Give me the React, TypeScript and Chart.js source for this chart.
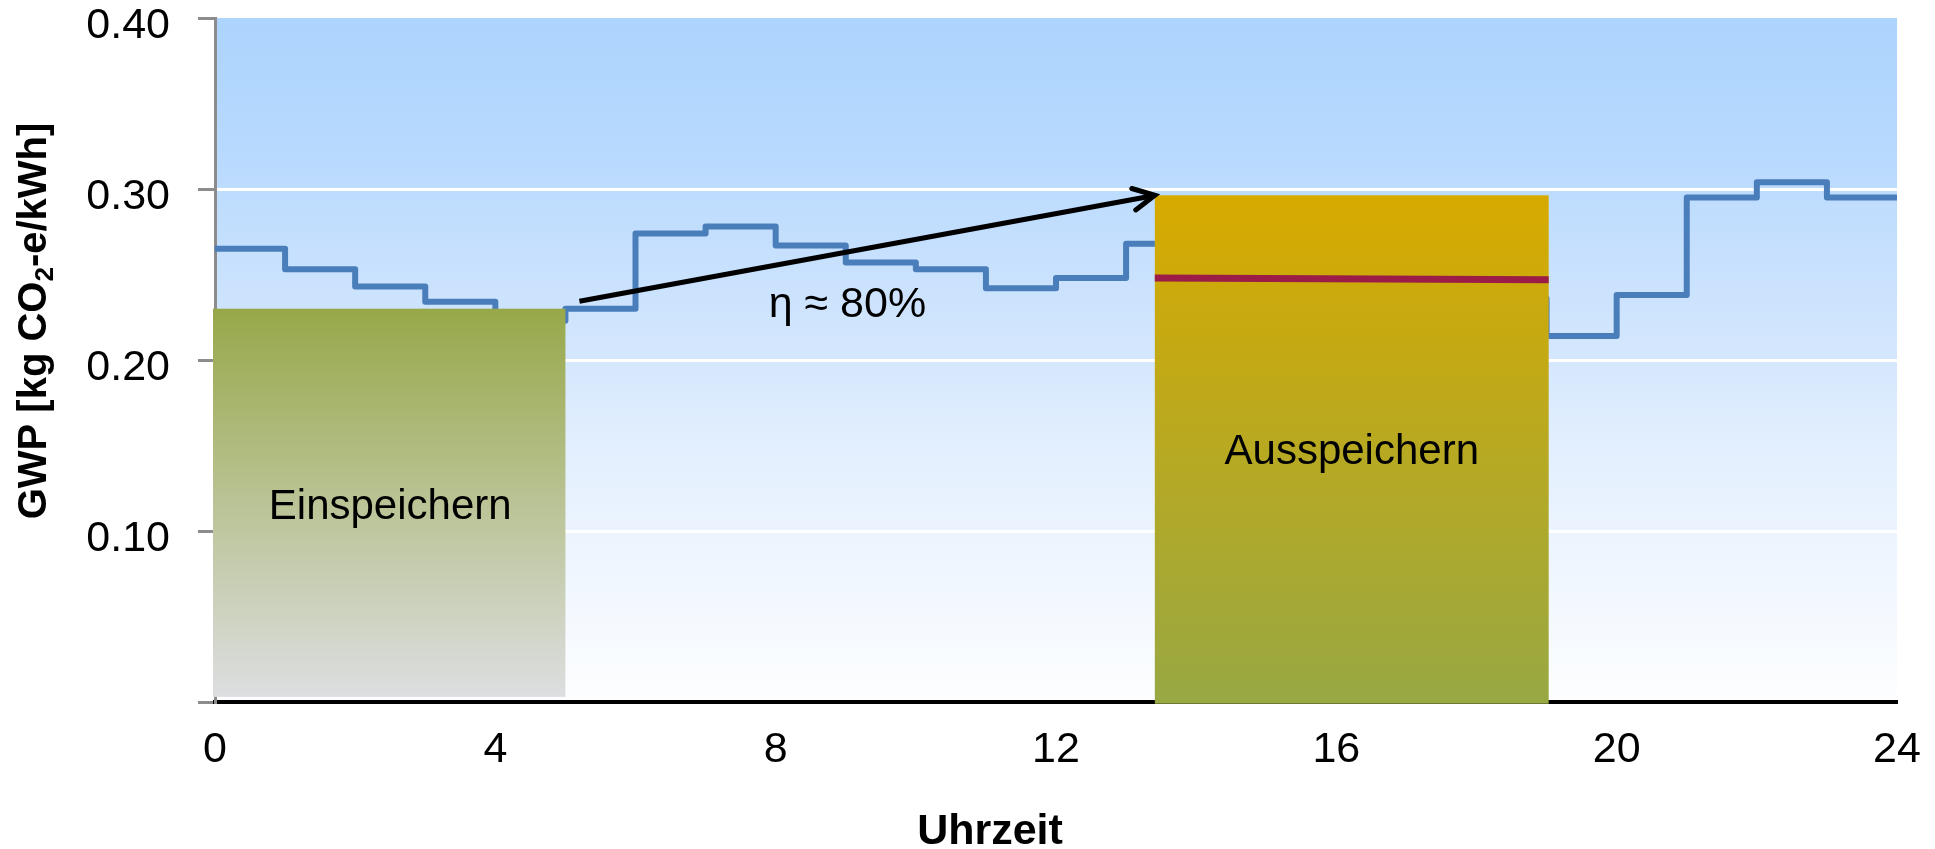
import React, { useEffect, useRef } from 'react';
import { Chart, registerables } from 'chart.js';

Chart.register(...registerables);

// ---- data ----
const hours = [0, 1, 2, 3, 4, 5, 6, 7, 8, 9, 10, 11, 12, 13, 14, 15, 16, 17, 18, 19, 20, 21, 22, 23, 24];
const gwpValues = [
  0.265, 0.253, 0.243, 0.234, 0.223, 0.230, 0.274, 0.278, 0.267, 0.257, 0.253, 0.242,
  0.248, 0.268, 0.270, 0.262, 0.255, 0.248, 0.236, 0.214, 0.238, 0.295, 0.304, 0.295, 0.295,
];
const xTickValues = [0, 4, 8, 12, 16, 20, 24];
const yTickValues = [0, 0.1, 0.2, 0.3, 0.4];
const yTickLabels = ['', '0.10', '0.20', '0.30', '0.40'];

const chargeHours = [0, 5];
const chargeLevel = [0.003, 0.23];
const dischargeHours = [13.41, 19.03];
const dischargeLevel = [-0.001, 0.2963];
const dischargeMeanLevel = [0.248, 0.247];
const arrowStart = [5.2, 0.2344];
const arrowEnd = [13.41, 0.2963];

const chargeLabel = 'Einspeichern';
const dischargeLabel = 'Ausspeichern';
const efficiencyLabel = 'η ≈ 80%';
const xTitle = 'Uhrzeit';
const yTitleParts = ['GWP [kg CO', '2', '-e/kWh]'];

const FONT = '"Liberation Sans", Arial, sans-serif';

const overlayPlugin = {
  id: 'overlay',
  beforeDraw(chart: any) {
    const { ctx, chartArea: a } = chart;
    const g = ctx.createLinearGradient(0, a.top, 0, a.bottom);
    g.addColorStop(0, '#acd4fd');
    g.addColorStop(0.19, '#b7d9fe');
    g.addColorStop(0.5, '#d5e7fd');
    g.addColorStop(0.63, '#e3effe');
    g.addColorStop(1, '#fdfeff');
    ctx.save();
    ctx.fillStyle = g;
    ctx.fillRect(a.left, a.top, a.right - a.left, a.bottom - a.top);
    ctx.restore();
  },
  afterDatasetsDraw(chart: any) {
    const { ctx } = chart;
    const xs = chart.scales.x;
    const ys = chart.scales.y;
    const px = (v: number) => xs.getPixelForValue(v);
    const py = (v: number) => ys.getPixelForValue(v);
    ctx.save();

    // charge box
    {
      const x0 = px(chargeHours[0]) - 2, x1 = px(chargeHours[1]);
      const yTop = py(chargeLevel[1]), yBot = py(chargeLevel[0]);
      const g = ctx.createLinearGradient(0, yTop, 0, yBot);
      g.addColorStop(0, '#97a849');
      g.addColorStop(1, '#dddee1');
      ctx.fillStyle = g;
      ctx.fillRect(x0, yTop, x1 - x0, yBot - yTop);
    }
    // discharge box
    {
      const x0 = px(dischargeHours[0]), x1 = px(dischargeHours[1]);
      const yTop = py(dischargeLevel[1]), yBot = py(dischargeLevel[0]);
      const g = ctx.createLinearGradient(0, yTop, 0, yBot);
      g.addColorStop(0, '#d7aa00');
      g.addColorStop(1, '#98a843');
      ctx.fillStyle = g;
      ctx.fillRect(x0, yTop, x1 - x0, yBot - yTop);
      // mean line
      ctx.strokeStyle = '#9b1d47';
      ctx.lineWidth = 7;
      ctx.beginPath();
      ctx.moveTo(x0, py(dischargeMeanLevel[0]));
      ctx.lineTo(x1, py(dischargeMeanLevel[1]));
      ctx.stroke();
    }
    // arrow
    {
      const sx = px(arrowStart[0]), sy = py(arrowStart[1]);
      const ex = px(arrowEnd[0]), ey = py(arrowEnd[1]);
      ctx.strokeStyle = '#000';
      ctx.lineWidth = 5;
      ctx.lineCap = 'butt';
      ctx.beginPath();
      ctx.moveTo(sx, sy);
      ctx.lineTo(ex - 3, ey + 0.6);
      ctx.stroke();
      const ang = Math.atan2(sy - ey, sx - ex);
      const len = 24, spread = (27 * Math.PI) / 180;
      ctx.lineCap = 'round';
      ctx.lineJoin = 'miter';
      ctx.beginPath();
      ctx.moveTo(ex + len * Math.cos(ang - spread), ey + len * Math.sin(ang - spread));
      ctx.lineTo(ex, ey);
      ctx.lineTo(ex + len * Math.cos(ang + spread), ey + len * Math.sin(ang + spread));
      ctx.stroke();
    }
    // texts
    ctx.fillStyle = '#000';
    ctx.font = `42px ${FONT}`;
    ctx.textBaseline = 'alphabetic';
    ctx.textAlign = 'center';
    ctx.fillText(chargeLabel, (px(chargeHours[0]) + px(chargeHours[1])) / 2, py(0.107));
    ctx.fillText(dischargeLabel, (px(dischargeHours[0]) + px(dischargeHours[1])) / 2, py(0.1394));
    ctx.textAlign = 'left';
    ctx.font = `43px ${FONT}`;
    ctx.fillText(efficiencyLabel, px(7.9), py(0.225));

    // x title
    ctx.font = `bold 43px ${FONT}`;
    ctx.textAlign = 'center';
    ctx.fillText(xTitle, 990, 844);

    // y title with subscript
    ctx.translate(46, 321);
    ctx.rotate(-Math.PI / 2);
    const big = `bold 40px ${FONT}`;
    const small = `bold 26px ${FONT}`;
    ctx.font = big;
    const w0 = ctx.measureText(yTitleParts[0]).width;
    const w2 = ctx.measureText(yTitleParts[2]).width;
    ctx.font = small;
    const w1 = ctx.measureText(yTitleParts[1]).width;
    let x = -(w0 + w1 + w2) / 2;
    ctx.textAlign = 'left';
    ctx.font = big;
    ctx.fillText(yTitleParts[0], x, 0);
    x += w0;
    ctx.font = small;
    ctx.fillText(yTitleParts[1], x, 7);
    x += w1;
    ctx.font = big;
    ctx.fillText(yTitleParts[2], x, 0);
    ctx.restore();
  },
};

export default function App() {
  const ref = useRef<HTMLCanvasElement | null>(null);
  useEffect(() => {
    if (!ref.current) return;
    const chart = new Chart(ref.current, {
      type: 'line',
      data: {
        datasets: [
          {
            data: hours.map((h, i) => ({ x: h, y: gwpValues[i] })),
            borderColor: '#4a7ebb',
            borderWidth: 6,
            stepped: 'before',
            pointRadius: 0,
            fill: false,
            borderJoinStyle: 'round',
            borderCapStyle: 'round',
          },
        ],
      },
      options: {
        animation: false,
        responsive: false,
        maintainAspectRatio: false,
        layout: { padding: { top: 18, right: 38, left: 0, bottom: 0 } },
        plugins: { legend: { display: false }, tooltip: { enabled: false }, title: { display: false } },
        scales: {
          x: {
            type: 'linear',
            min: 0,
            max: 24,
            afterBuildTicks: (s: any) => {
              s.ticks = xTickValues.map((v) => ({ value: v }));
            },
            afterFit: (s: any) => {
              s.height = 147;
              s.paddingLeft = 0;
              s.paddingRight = 0;
            },
            grid: { display: false, drawTicks: false },
            border: { display: true, color: '#000', width: 4 },
            ticks: {
              padding: 22,
              color: '#000',
              font: { family: FONT, size: 43 },
              maxRotation: 0,
              autoSkip: false,
            },
          },
          y: {
            type: 'linear',
            min: 0,
            max: 0.4,
            afterBuildTicks: (s: any) => {
              s.ticks = yTickValues.map((v) => ({ value: v }));
            },
            afterFit: (s: any) => {
              s.width = 215;
              s.paddingTop = 0;
              s.paddingBottom = 0;
            },
            grid: {
              color: (c: any) => (c.tick && c.tick.value > 0.001 && c.tick.value < 0.399 ? '#ffffff' : 'rgba(0,0,0,0)'),
              lineWidth: 3,
              tickColor: '#8c8c8c',
              tickWidth: 3,
              tickLength: 17,
              drawTicks: true,
            },
            border: { display: true, color: '#8c8c8c', width: 3 },
            ticks: {
              padding: 28,
              labelOffset: 8,
              color: '#000',
              font: { family: FONT, size: 43 },
              autoSkip: false,
              callback: (v: any) => {
                const i = yTickValues.findIndex((t) => Math.abs(t - v) < 1e-6);
                return i >= 0 ? yTickLabels[i] : '';
              },
            },
          },
        },
      },
      plugins: [overlayPlugin],
    } as any);
    return () => chart.destroy();
  }, []);
  return (
    <div style={{ position: 'fixed', left: 0, top: 0, width: 1935, height: 849, background: '#fff' }}>
      <canvas ref={ref} width={1935} height={849} style={{ display: 'block', width: 1935, height: 849 }} />
    </div>
  );
}
